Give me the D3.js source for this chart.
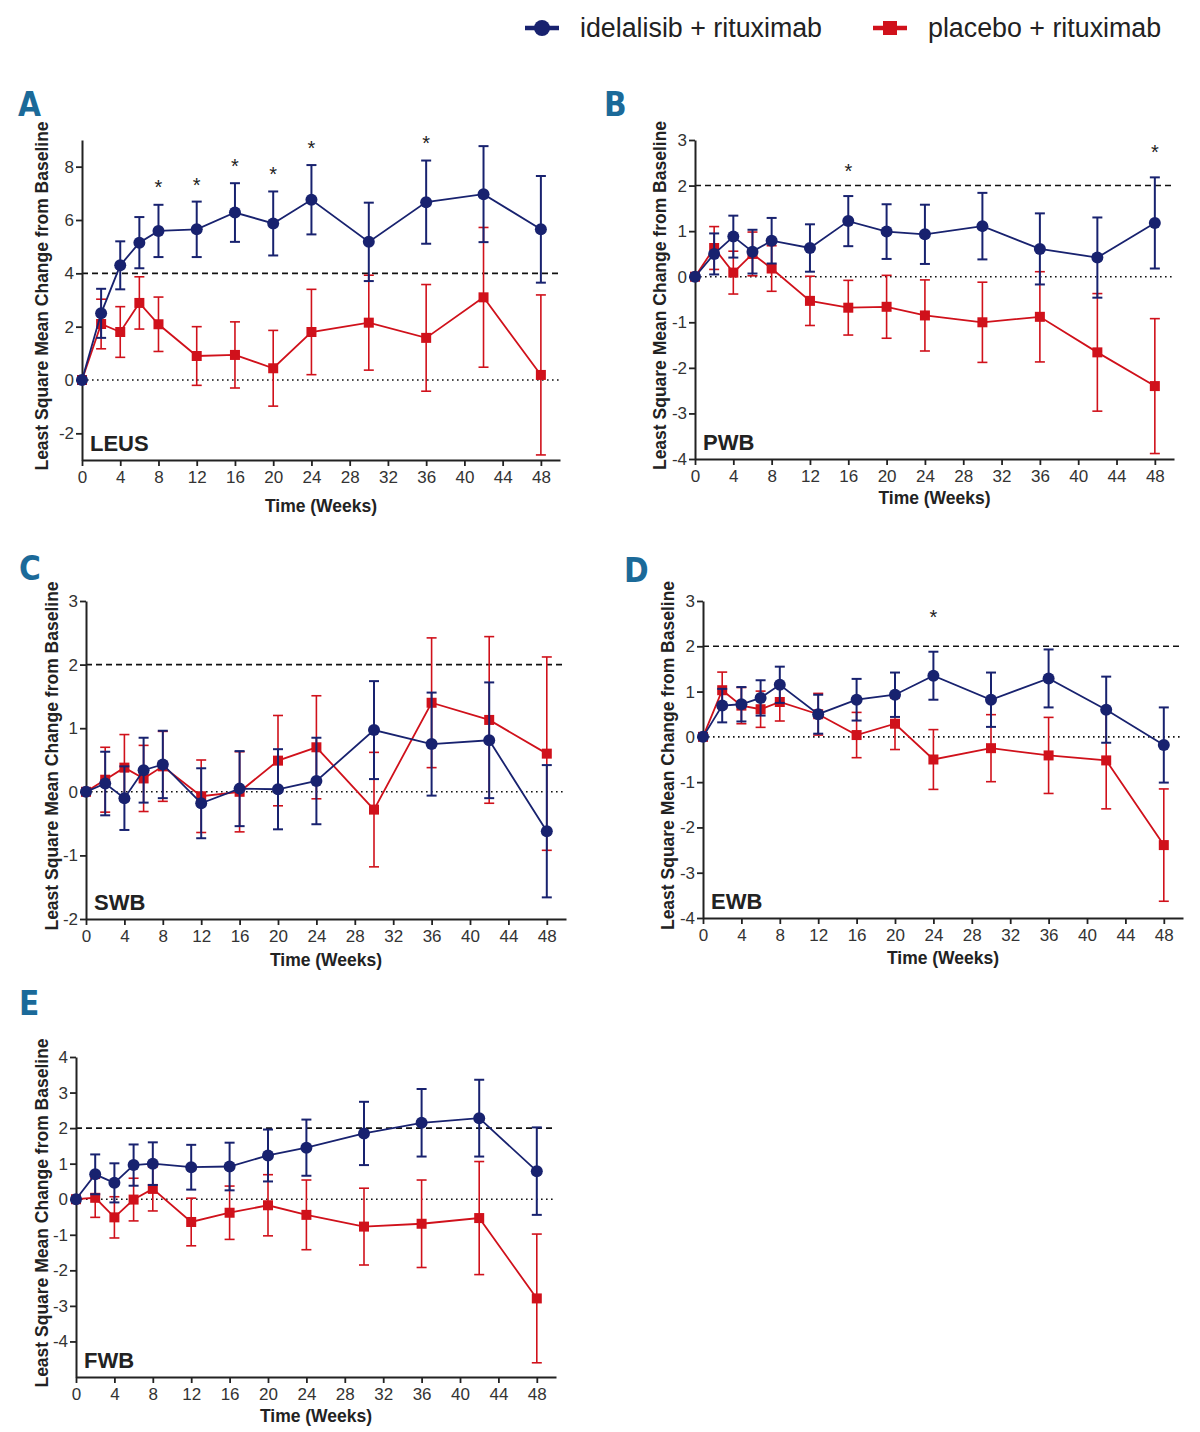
<!DOCTYPE html>
<html>
<head>
<meta charset="utf-8">
<script src="https://cdn.jsdelivr.net/npm/d3@7"></script>
<style>
body { margin: 0; background: #fff; }
svg text { font-family: "Liberation Sans", Arial, sans-serif; }
</style>
</head>
<body>
<svg width="1200" height="1432"></svg>
<script>
// time points and axis ticks
const weeks = [0, 2, 4, 6, 8, 12, 16, 20, 24, 30, 36, 42, 48];
const xTicks = [0, 4, 8, 12, 16, 20, 24, 28, 32, 36, 40, 44, 48];

// A - LEUS
const leusIdela    = [0, 2.50, 4.30, 5.15, 5.59, 5.65, 6.28, 5.87, 6.76, 5.18, 6.67, 6.97, 5.65];
const leusIdelaErr = [0, 0.92, 0.90, 0.96, 0.98, 1.04, 1.10, 1.20, 1.30, 1.47, 1.56, 1.80, 2.00];
const leusPlac     = [0, 2.10, 1.80, 2.89, 2.09, 0.90, 0.94, 0.44, 1.80, 2.15, 1.58, 3.10, 0.19];
const leusPlacErr  = [0, 0.93, 0.95, 0.98, 1.02, 1.10, 1.24, 1.42, 1.60, 1.78, 2.00, 2.62, 3.00];
const leusStarWeeks = [8, 12, 16, 20, 24, 36];
const leusStarY     = [7.37, 7.47, 8.19, 7.89, 8.86, 9.04];

// B - PWB
const pwbIdela    = [0, 0.50, 0.88, 0.55, 0.79, 0.63, 1.22, 0.99, 0.93, 1.11, 0.61, 0.42, 1.18];
const pwbIdelaErr = [0, 0.45, 0.46, 0.48, 0.50, 0.52, 0.55, 0.60, 0.65, 0.73, 0.78, 0.88, 1.00];
const pwbPlac     = [0, 0.63, 0.09, 0.50, 0.18, -0.53, -0.68, -0.66, -0.85, -1.00, -0.88, -1.66, -2.40];
const pwbPlacErr  = [0, 0.47, 0.47, 0.48, 0.50, 0.54, 0.60, 0.69, 0.78, 0.88, 0.99, 1.29, 1.48];
const pwbStarWeeks = [16, 48];
const pwbStarY     = [2.41, 2.82];

// C - SWB
const swbIdela    = [0, 0.13, -0.10, 0.34, 0.43, -0.18, 0.05, 0.04, 0.17, 0.97, 0.75, 0.81, -0.62];
const swbIdelaErr = [0, 0.50, 0.50, 0.51, 0.53, 0.55, 0.59, 0.63, 0.68, 0.77, 0.81, 0.91, 1.04];
const swbPlac     = [0, 0.19, 0.38, 0.21, 0.40, -0.07, 0.00, 0.49, 0.70, -0.28, 1.40, 1.13, 0.60];
const swbPlacErr  = [0, 0.51, 0.52, 0.52, 0.55, 0.57, 0.63, 0.71, 0.81, 0.90, 1.02, 1.31, 1.52];
const swbStarWeeks = [];
const swbStarY     = [];

// D - EWB
const ewbIdela    = [0, 0.69, 0.72, 0.86, 1.15, 0.50, 0.82, 0.93, 1.35, 0.82, 1.29, 0.60, -0.18];
const ewbIdelaErr = [0, 0.37, 0.38, 0.39, 0.40, 0.43, 0.46, 0.49, 0.53, 0.60, 0.64, 0.73, 0.83];
const ewbPlac     = [0, 1.03, 0.69, 0.61, 0.77, 0.50, 0.04, 0.29, -0.50, -0.25, -0.41, -0.52, -2.39];
const ewbPlacErr  = [0, 0.40, 0.40, 0.40, 0.42, 0.46, 0.50, 0.57, 0.66, 0.74, 0.84, 1.07, 1.24];
const ewbStarWeeks = [24];
const ewbStarY     = [2.74];

// E - FWB
const fwbIdela    = [0, 0.70, 0.46, 0.96, 1.00, 0.90, 0.92, 1.23, 1.45, 1.85, 2.15, 2.28, 0.79];
const fwbIdelaErr = [0, 0.56, 0.55, 0.58, 0.60, 0.63, 0.67, 0.73, 0.79, 0.89, 0.95, 1.08, 1.23];
const fwbPlac     = [0, 0.04, -0.51, -0.01, 0.29, -0.64, -0.38, -0.17, -0.44, -0.77, -0.69, -0.53, -2.79];
const fwbPlacErr  = [0, 0.55, 0.58, 0.60, 0.62, 0.67, 0.75, 0.86, 0.98, 1.08, 1.23, 1.59, 1.81];
const fwbStarWeeks = [];
const fwbStarY     = [];

const seriesNames = ["idelalisib + rituximab", "placebo + rituximab"];

const BLUE = "#18226f";
const RED = "#d0111b";
const LETTER = "#1b6a99";

const svg = d3.select("svg");

const panels = [
  { letter: "A", name: "LEUS", x0: 82, x1: 560, y0: 140, y1: 460, dom: [-3, 9], yt: [-2, 0, 2, 4, 6, 8], ref: 4,
    idela: leusIdela, idelaErr: leusIdelaErr, plac: leusPlac, placErr: leusPlacErr, sw: leusStarWeeks, sy: leusStarY,
    lx: 18, ly: 116, ytx: 48, xty: 512 },
  { letter: "B", name: "PWB", x0: 695, x1: 1174, y0: 140, y1: 459, dom: [-4, 3], yt: [-4, -3, -2, -1, 0, 1, 2, 3], ref: 2,
    idela: pwbIdela, idelaErr: pwbIdelaErr, plac: pwbPlac, placErr: pwbPlacErr, sw: pwbStarWeeks, sy: pwbStarY,
    lx: 604, ly: 116, ytx: 666, xty: 504 },
  { letter: "C", name: "SWB", x0: 86, x1: 566, y0: 601, y1: 919, dom: [-2, 3], yt: [-2, -1, 0, 1, 2, 3], ref: 2,
    idela: swbIdela, idelaErr: swbIdelaErr, plac: swbPlac, placErr: swbPlacErr, sw: swbStarWeeks, sy: swbStarY,
    lx: 19, ly: 580, ytx: 58, xty: 966 },
  { letter: "D", name: "EWB", x0: 703, x1: 1183, y0: 601, y1: 918, dom: [-4, 3], yt: [-4, -3, -2, -1, 0, 1, 2, 3], ref: 2,
    idela: ewbIdela, idelaErr: ewbIdelaErr, plac: ewbPlac, placErr: ewbPlacErr, sw: ewbStarWeeks, sy: ewbStarY,
    lx: 624, ly: 582, ytx: 674, xty: 964 },
  { letter: "E", name: "FWB", x0: 76, x1: 556, y0: 1057, y1: 1377, dom: [-5, 4], yt: [-4, -3, -2, -1, 0, 1, 2, 3, 4], ref: 2,
    idela: fwbIdela, idelaErr: fwbIdelaErr, plac: fwbPlac, placErr: fwbPlacErr, sw: fwbStarWeeks, sy: fwbStarY,
    lx: 19, ly: 1015, ytx: 48, xty: 1422 }
];

// legend
function legendItem(x, color, shape, label) {
  const g = svg.append("g").attr("transform", "translate(" + x + ",28)");
  g.append("line").attr("x1", -17).attr("x2", 17).attr("stroke", color).attr("stroke-width", 4.5);
  if (shape == "circle") g.append("circle").attr("r", 8).attr("fill", color);
  else g.append("rect").attr("x", -7).attr("y", -7).attr("width", 14).attr("height", 14).attr("fill", color);
  g.append("text").attr("x", 38).attr("y", 9).attr("font-size", 26.8).attr("fill", "#222").text(label);
}
legendItem(542, BLUE, "circle", seriesNames[0]);
legendItem(890, RED, "square", seriesNames[1]);

panels.forEach(function (p) {
  const x = d3.scaleLinear().domain([0, 50]).range([p.x0, p.x1]);
  const y = d3.scaleLinear().domain(p.dom).range([p.y1, p.y0]);
  const g = svg.append("g");

  // panel letter
  g.append("text").attr("x", p.lx).attr("y", p.ly)
    .style("font-family", "'Liberation Sans Narrow','DejaVu Sans Condensed',sans-serif")
    .attr("font-weight", "bold").attr("font-size", 33).attr("fill", LETTER)
    .text(p.letter);

  // reference lines
  g.append("line").attr("x1", p.x0).attr("x2", p.x1)
    .attr("y1", y(p.ref)).attr("y2", y(p.ref))
    .attr("stroke", "#111").attr("stroke-width", 1.6).attr("stroke-dasharray", "6,4");
  g.append("line").attr("x1", p.x0).attr("x2", p.x1)
    .attr("y1", y(0)).attr("y2", y(0))
    .attr("stroke", "#111").attr("stroke-width", 1.6).attr("stroke-dasharray", "1.6,3.4");

  // axes
  const xa = g.append("g").attr("transform", "translate(0," + p.y1 + ")")
    .call(d3.axisBottom(x).tickValues(xTicks).tickSize(6).tickSizeOuter(0).tickPadding(5)
      .tickFormat(function (d) { return String(d); }));
  const ya = g.append("g").attr("transform", "translate(" + p.x0 + ",0)")
    .call(d3.axisLeft(y).tickValues(p.yt).tickSize(6).tickSizeOuter(0).tickPadding(2)
      .tickFormat(function (d) { return String(d); }));
  [xa, ya].forEach(function (a) {
    a.select(".domain").attr("stroke", "#222").attr("stroke-width", 2);
    a.selectAll(".tick line").attr("stroke", "#222").attr("stroke-width", 1.8);
    a.selectAll(".tick text").attr("font-size", 17).attr("fill", "#333")
      .style("font-family", "'Liberation Sans', Arial, sans-serif");
  });

  // axis titles
  g.append("text").attr("x", (p.x0 + p.x1) / 2).attr("y", p.xty)
    .attr("text-anchor", "middle").attr("font-weight", "bold").attr("font-size", 17.5).attr("fill", "#222")
    .text("Time (Weeks)");
  g.append("text")
    .attr("transform", "translate(" + p.ytx + "," + ((p.y0 + p.y1) / 2 - 4) + ") rotate(-90)")
    .attr("text-anchor", "middle").attr("font-weight", "bold").attr("font-size", 17.5).attr("fill", "#222")
    .text("Least Square Mean Change from Baseline");

  // scale name
  g.append("text").attr("x", p.x0 + 8).attr("y", p.y1 - 9)
    .attr("font-weight", "bold").attr("font-size", 22).attr("fill", "#222")
    .text(p.name);

  // series: placebo first, idelalisib on top
  const series = [
    { vals: p.plac, err: p.placErr, color: RED, shape: "square", w: 1.6 },
    { vals: p.idela, err: p.idelaErr, color: BLUE, shape: "circle", w: 2 }
  ];
  series.forEach(function (s) {
    const pts = weeks.map(function (w, i) { return { w: w, v: s.vals[i], e: s.err[i] }; });
    const eb = g.append("g").selectAll("g").data(pts.filter(function (d) { return d.e > 0; }))
      .enter().append("g").attr("stroke", s.color).attr("stroke-width", s.w);
    eb.append("line")
      .attr("x1", function (d) { return x(d.w); }).attr("x2", function (d) { return x(d.w); })
      .attr("y1", function (d) { return y(d.v - d.e); }).attr("y2", function (d) { return y(d.v + d.e); });
    eb.append("line")
      .attr("x1", function (d) { return x(d.w) - 5; }).attr("x2", function (d) { return x(d.w) + 5; })
      .attr("y1", function (d) { return y(d.v + d.e); }).attr("y2", function (d) { return y(d.v + d.e); });
    eb.append("line")
      .attr("x1", function (d) { return x(d.w) - 5; }).attr("x2", function (d) { return x(d.w) + 5; })
      .attr("y1", function (d) { return y(d.v - d.e); }).attr("y2", function (d) { return y(d.v - d.e); });

    g.append("path").datum(pts)
      .attr("fill", "none").attr("stroke", s.color).attr("stroke-width", 1.8)
      .attr("d", d3.line().x(function (d) { return x(d.w); }).y(function (d) { return y(d.v); }));

    if (s.shape == "circle") {
      g.selectAll(null).data(pts).enter().append("circle")
        .attr("cx", function (d) { return x(d.w); }).attr("cy", function (d) { return y(d.v); })
        .attr("r", 6).attr("fill", s.color);
    } else {
      g.selectAll(null).data(pts).enter().append("rect")
        .attr("x", function (d) { return x(d.w) - 5; }).attr("y", function (d) { return y(d.v) - 5; })
        .attr("width", 10).attr("height", 10).attr("fill", s.color);
    }
  });

  // significance stars
  g.selectAll(null).data(p.sw).enter().append("text")
    .attr("x", function (d) { return x(d); })
    .attr("y", function (d, i) { return y(p.sy[i]) + 11; })
    .attr("text-anchor", "middle").attr("font-size", 20).attr("fill", "#222")
    .text("*");
});
</script>
</body>
</html>
